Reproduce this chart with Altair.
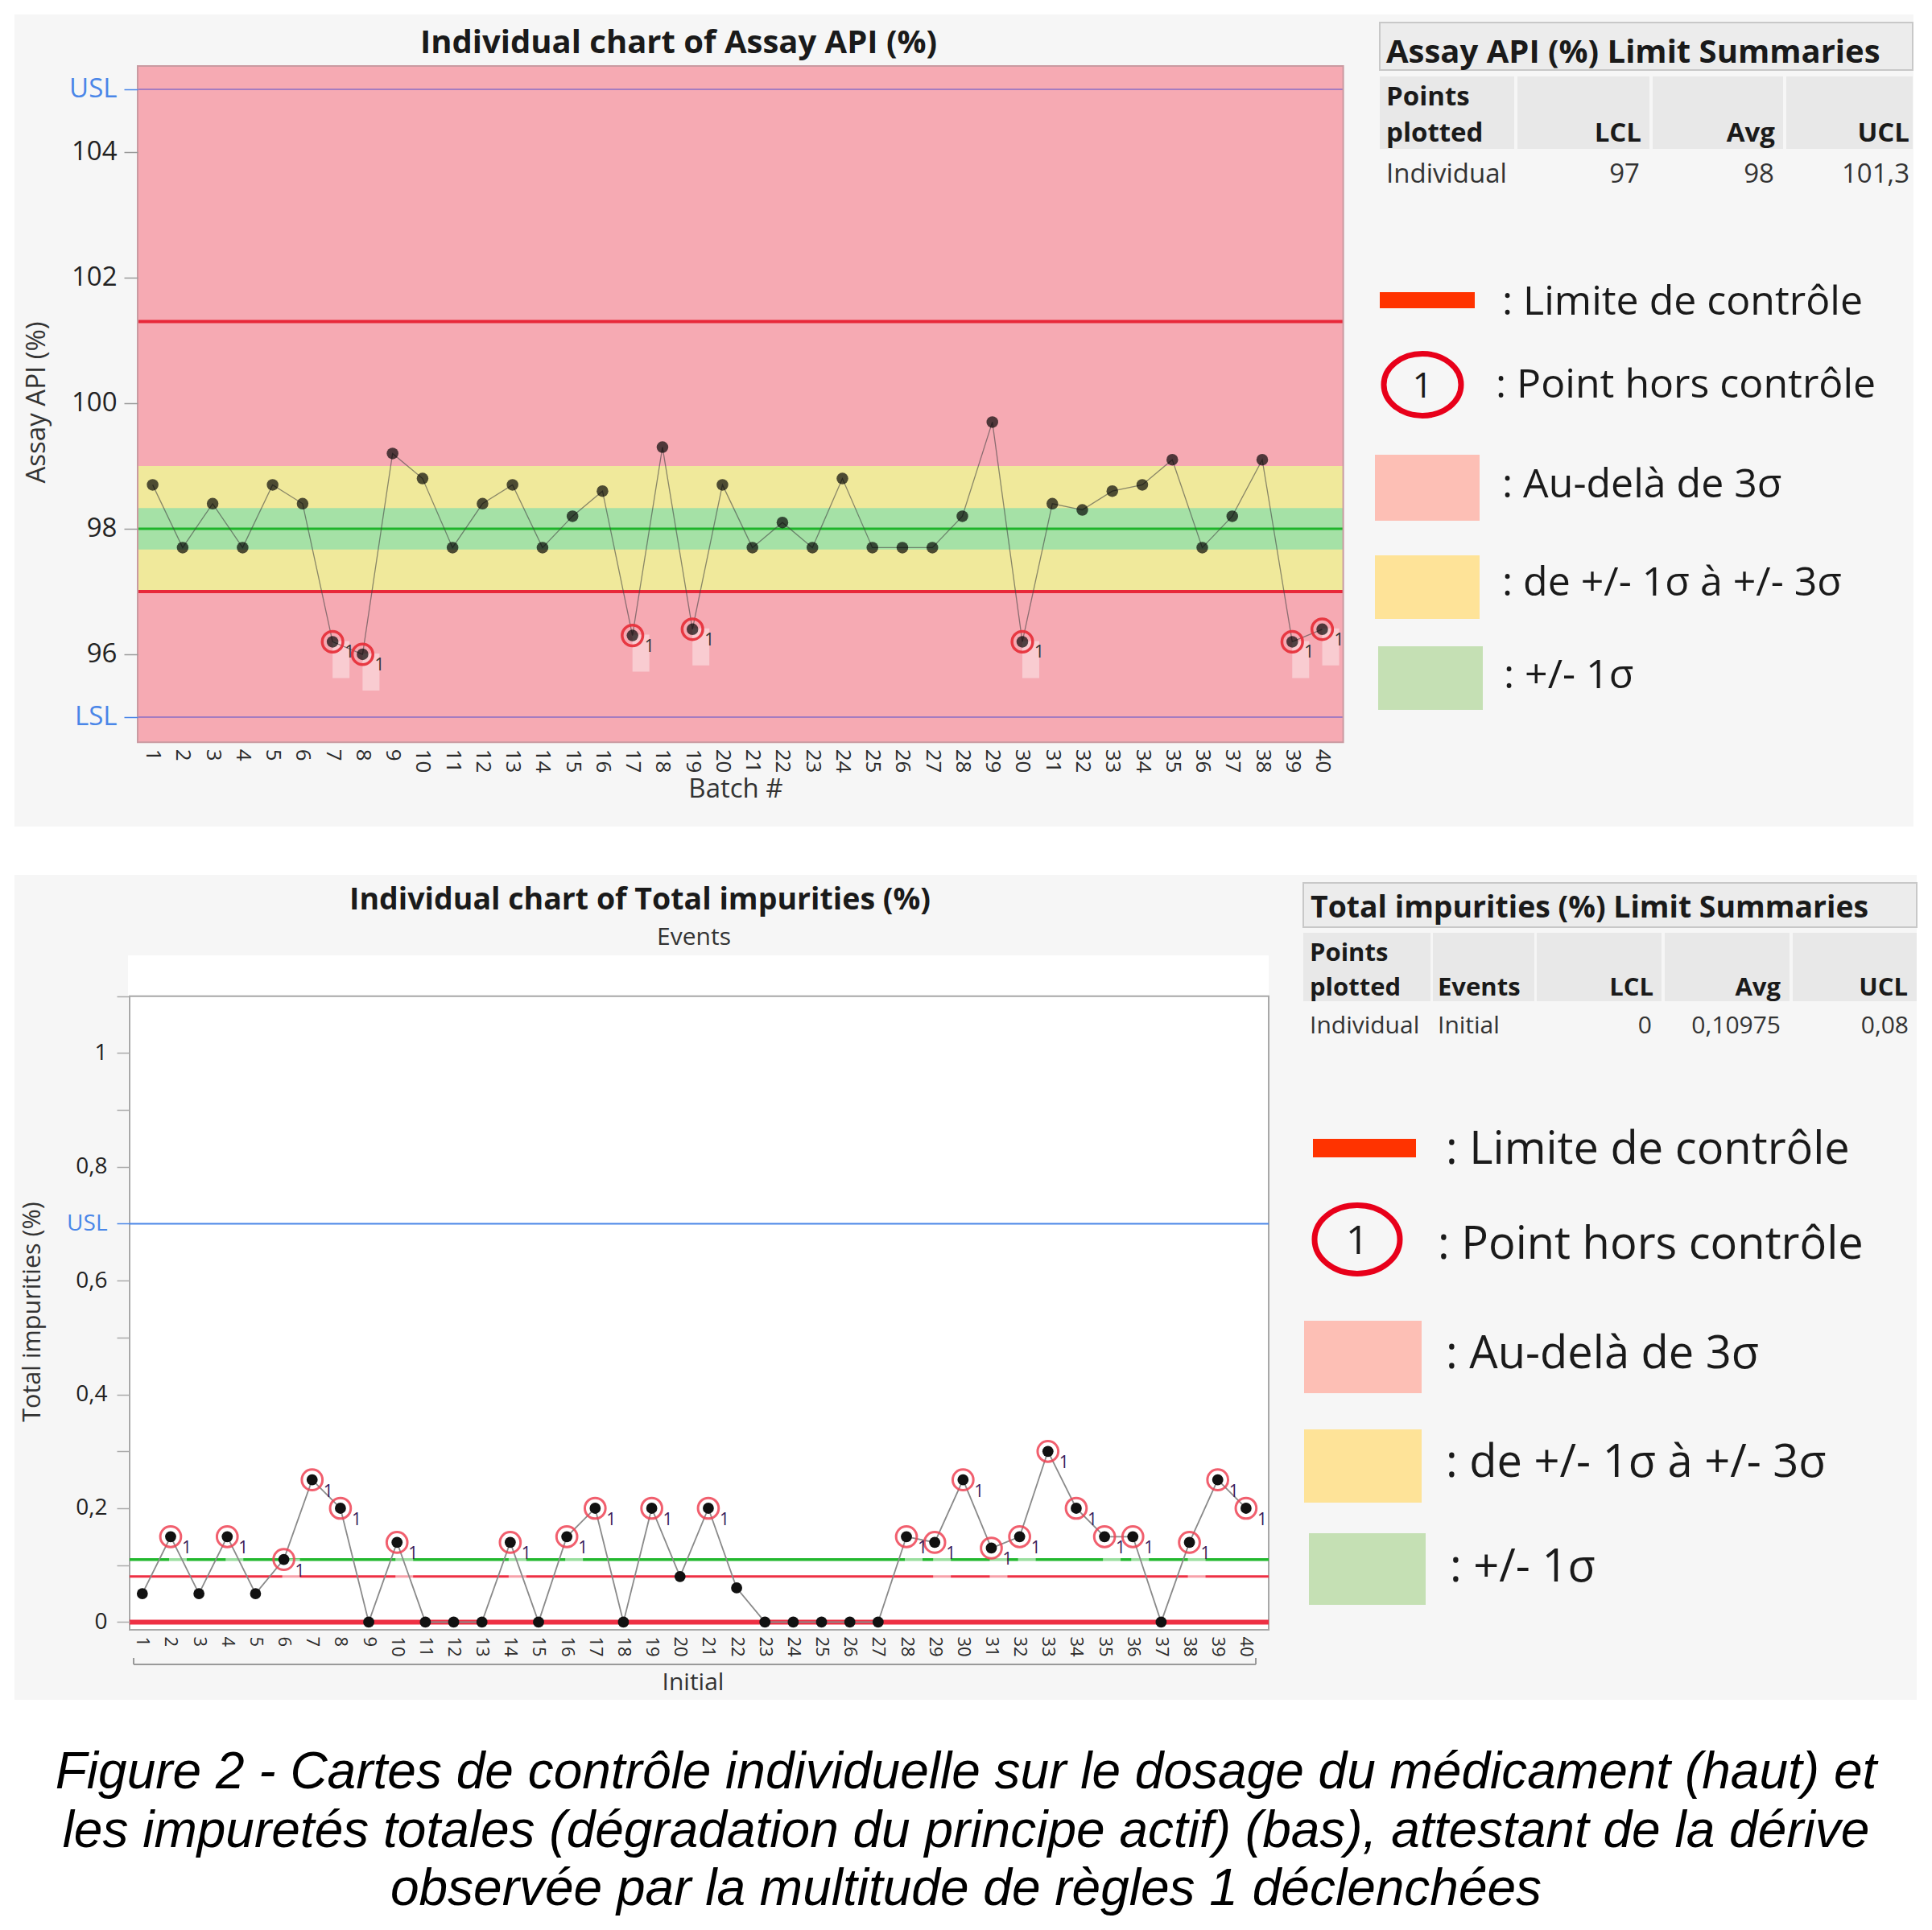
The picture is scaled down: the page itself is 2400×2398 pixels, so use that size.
import altair as alt
import pandas as pd

# ------------------------------------------------------------------ data
batches = list(range(1, 41))
assay = [98.7, 97.7, 98.4, 97.7, 98.7, 98.4, 96.2, 96.0, 99.2, 98.8,
         97.7, 98.4, 98.7, 97.7, 98.2, 98.6, 96.3, 99.3, 96.4, 98.7,
         97.7, 98.1, 97.7, 98.8, 97.7, 97.7, 97.7, 98.2, 99.7, 96.2,
         98.4, 98.3, 98.6, 98.7, 99.1, 97.7, 98.2, 99.1, 96.2, 96.4]
impurities = [0.05, 0.15, 0.05, 0.15, 0.05, 0.11, 0.25, 0.20, 0.0, 0.14,
              0.0, 0.0, 0.0, 0.14, 0.0, 0.15, 0.20, 0.0, 0.20, 0.08,
              0.20, 0.06, 0.0, 0.0, 0.0, 0.0, 0.0, 0.15, 0.14, 0.25,
              0.13, 0.15, 0.30, 0.20, 0.15, 0.15, 0.0, 0.14, 0.25, 0.20]

assay_lcl, assay_avg, assay_ucl = 97.0, 98.0, 101.3
assay_lsl, assay_usl = 95.0, 105.0
assay_domain = [94.6, 105.37]
zone_names = ["Au-delà de 3σ", "de +/- 1σ à +/- 3σ", "+/- 1σ"]
zone_lo = [94.6, 97.0, 97.67]
zone_hi = [105.37, 99.0, 98.33]
zone_colors = ["#f6aab3", "#f0e99b", "#a5e1a6"]
assay_ticks = [95, 96, 98, 100, 102, 104, 105]

imp_lcl, imp_avg, imp_ucl, imp_usl = 0.0, 0.10975, 0.08, 0.7
imp_domain = [-0.0136, 1.1]
imp_ticks = [0, 0.1, 0.2, 0.3, 0.4, 0.5, 0.6, 0.7, 0.8, 0.9, 1.0, 1.1]

legend_labels = [": Limite de contrôle", ": Point hors contrôle", ": Au-delà de 3σ",
                 ": de +/- 1σ à +/- 3σ", ": +/- 1σ"]
legend_swatch = ["#fdbfb5", "#fee398", "#c5e0b4"]

caption_lines = [
    "Figure 2 - Cartes de contrôle individuelle sur le dosage du médicament (haut) et",
    "les impuretés totales (dégradation du principe actif) (bas), attestant de la dérive",
    "observée par la multitude de règles 1 déclenchées",
]

# ------------------------------------------------------------------ helpers
M = 8
W, H = 2384, 2382
FONT = "Open Sans"
CAPFONT = "Liberation Sans"


def P(v):
    return v - M


one = pd.DataFrame({"k": [0]})


def rect(x1, y1, x2, y2, fill, stroke=None, sw=1, opacity=1.0):
    kw = dict(fill=fill, opacity=opacity)
    if stroke:
        kw.update(stroke=stroke, strokeWidth=sw)
    return alt.Chart(one).mark_rect(**kw).encode(
        x=alt.value(P(x1)), x2=alt.value(P(x2)), y=alt.value(P(y1)), y2=alt.value(P(y2)))


def seg(x1, y1, x2, y2, color, sw):
    return alt.Chart(one).mark_rule(color=color, strokeWidth=sw).encode(
        x=alt.value(P(x1)), x2=alt.value(P(x2)), y=alt.value(P(y1)), y2=alt.value(P(y2)))


def text(s, x, y, size, weight="normal", align="left", baseline="alphabetic",
         color="#1a1a1a", font=FONT, angle=None, style="normal"):
    kw = dict(text=s, fontSize=size, fontWeight=weight, align=align, baseline=baseline,
              color=color, font=font, fontStyle=style)
    if angle is not None:
        kw["angle"] = angle
    return alt.Chart(one).mark_text(**kw).encode(x=alt.value(P(x)), y=alt.value(P(y)))


def ellipse(cx, cy, rx, color, sw):
    path = "M -1 0 A 1 0.8 0 1 0 1 0 A 1 0.8 0 1 0 -1 0 Z"
    return alt.Chart(one).mark_point(shape=path, size=(2 * rx) ** 2, filled=False,
                                     color=color, strokeWidth=sw, opacity=1).encode(
        x=alt.value(P(cx)), y=alt.value(P(cy)))


layers = []

# ------------------------------------------------------------------ panels
layers.append(rect(18, 18, 2377, 1027, "#f6f6f6"))
layers.append(rect(18, 1087, 2381, 2112, "#f6f6f6"))

# ================================================================== TOP PLOT
TX0, TX1 = 171, 1668.6
TY0, TY1 = 922.2, 82.1
xs_t = alt.Scale(domain=[0.5, 40.7], range=[P(TX0), P(TX1)], nice=False, zero=False)
ys_t = alt.Scale(domain=assay_domain, range=[P(TY0), P(TY1)], nice=False, zero=False)
spec_test_t = f"datum.value == {assay_usl} || datum.value == {assay_lsl}"
ax_x_t = alt.Axis(values=batches, labelAngle=90, ticks=False, domain=False, grid=False,
                  labelPadding=8, labelFontSize=26, labelFont=FONT, labelColor="#2a2a2a",
                  title=None, orient="bottom", offset=P(TY0) - H, zindex=2,
                  labelOverlap=False, labelFlush=False, labelBound=False)
ax_y_t = alt.Axis(values=assay_ticks,
                  labelExpr=f"datum.value == {assay_usl} ? 'USL' : (datum.value == {assay_lsl} ? 'LSL' : datum.label)",
                  labelColor={"condition": {"test": spec_test_t, "value": "#4a86e8"}, "value": "#222"},
                  tickColor={"condition": {"test": spec_test_t, "value": "#4a86e8"}, "value": "#999"},
                  tickSize=17, tickWidth=1.5, labelPadding=9, domain=False, grid=False,
                  labelFontSize=33, labelFont=FONT, title=None, orient="left", zindex=2,
                  offset=-P(TX0), labelOverlap=False, labelFlush=False, labelBound=False)

df_t = pd.DataFrame({"batch": batches, "assay": assay})
zones_t = pd.DataFrame({"zone": zone_names, "lo": zone_lo, "hi": zone_hi})
flag_t = f"datum.assay < {assay_lcl} || datum.assay > {assay_ucl}"
Xt = alt.X("batch:Q", scale=xs_t, axis=ax_x_t)
Yt = alt.Y("assay:Q", scale=ys_t, axis=ax_y_t)

bands_t = alt.Chart(zones_t).mark_rect().encode(
    x=alt.value(P(TX0)), x2=alt.value(P(TX1)),
    y=alt.Y("lo:Q", scale=ys_t, axis=ax_y_t), y2="hi:Q",
    color=alt.Color("zone:N", scale=alt.Scale(domain=zone_names, range=zone_colors), legend=None))


def hlines_t(vals, color, sw):
    return alt.Chart(pd.DataFrame({"v": vals})).mark_rule(color=color, strokeWidth=sw).encode(
        x=alt.value(P(TX0)), x2=alt.value(P(TX1)), y=alt.Y("v:Q", scale=ys_t, axis=ax_y_t))


lab_rects_t = alt.Chart(df_t).transform_filter(flag_t).mark_rect(
    fill="white", opacity=0.4, xOffset=0, x2Offset=21, yOffset=-1, y2Offset=45).encode(
    x=Xt, x2="batch:Q", y=Yt, y2="assay:Q")
conn_t = alt.Chart(df_t).mark_line(color="#444", strokeWidth=1.3, opacity=0.6).encode(x=Xt, y=Yt)
pts_t = alt.Chart(df_t).mark_circle(size=210, color="black", opacity=0.68).encode(x=Xt, y=Yt)
rings_t = alt.Chart(df_t).transform_filter(flag_t).mark_point(
    shape="circle", size=660, filled=False, color="#e8323c", strokeWidth=3.5, opacity=0.95).encode(x=Xt, y=Yt)
ones_t = alt.Chart(df_t).transform_filter(flag_t).mark_text(
    text="1", dx=21, dy=14, fontSize=21, font=FONT, color="#333", align="center", baseline="middle").encode(x=Xt, y=Yt)
frame_t = rect(TX0, TY1, TX1, TY0, "transparent", stroke="#c99aa1", sw=2)

top_plot = alt.layer(
    bands_t,
    hlines_t([assay_usl, assay_lsl], "#8a6cc4", 1.6),
    hlines_t([assay_ucl, assay_lcl], "#e8283a", 4),
    hlines_t([assay_avg], "#1fb42a", 3),
    lab_rects_t, conn_t, pts_t, rings_t, ones_t,
)

# ================================================================== BOTTOM PLOT
BX0, BX1 = 161, 1576
BY0, BY1 = 2025, 1237.7
xs_b = alt.Scale(domain=[0.55, 40.8], range=[P(BX0), P(BX1)], nice=False, zero=False)
ys_b = alt.Scale(domain=imp_domain, range=[P(BY0), P(BY1)], nice=False, zero=False)
usl_test_b = f"datum.value == {imp_usl}"
ax_x_b = alt.Axis(values=batches, labelAngle=90, ticks=False, domain=False, grid=False,
                  labelPadding=8, labelFontSize=22, labelFont=FONT, labelColor="#2a2a2a",
                  title=None, orient="bottom", offset=P(BY0) - H, zindex=2,
                  labelOverlap=False, labelFlush=False, labelBound=False)
ax_y_b = alt.Axis(values=imp_ticks,
                  labelExpr=(f"datum.value == {imp_usl} ? 'USL' : "
                             "(round(datum.value * 10) % 2 == 0 ? replace(format(datum.value, '~g'), '.', ',') : '')"),
                  labelColor={"condition": {"test": usl_test_b, "value": "#4a86e8"}, "value": "#222"},
                  tickColor={"condition": {"test": usl_test_b, "value": "#4a86e8"}, "value": "#aaa"},
                  tickSize=16, tickWidth=1.5, labelPadding=12, domain=False, grid=False,
                  labelFontSize=28, labelFont=FONT, title=None, orient="left", zindex=2,
                  offset=-P(BX0), labelOverlap=False, labelFlush=False, labelBound=False)

df_b = pd.DataFrame({"batch": batches, "imp": impurities})
flag_b = f"datum.imp < {imp_lcl} || datum.imp > {imp_ucl}"
Xb = alt.X("batch:Q", scale=xs_b, axis=ax_x_b)
Yb = alt.Y("imp:Q", scale=ys_b, axis=ax_y_b)


def hlines_b(vals, color, sw):
    return alt.Chart(pd.DataFrame({"v": vals})).mark_rule(color=color, strokeWidth=sw).encode(
        x=alt.value(P(BX0)), x2=alt.value(P(BX1)), y=alt.Y("v:Q", scale=ys_b, axis=ax_y_b))


lab_rects_b = alt.Chart(df_b).transform_filter(flag_b).mark_rect(
    fill="white", opacity=0.55, xOffset=-2, x2Offset=20, yOffset=-1, y2Offset=45).encode(
    x=Xb, x2="batch:Q", y=Yb, y2="imp:Q")
conn_b = alt.Chart(df_b).mark_line(color="#8a8a8a", strokeWidth=1.8).encode(x=Xb, y=Yb)
pts_b = alt.Chart(df_b).mark_circle(size=190, color="#111", opacity=1).encode(x=Xb, y=Yb)
rings_b = alt.Chart(df_b).transform_filter(flag_b).mark_point(
    shape="circle", size=660, filled=False, color="#ef4455", strokeWidth=3, opacity=0.85).encode(x=Xb, y=Yb)
ones_b = alt.Chart(df_b).transform_filter(flag_b).mark_text(
    text="1", dx=20, dy=15, fontSize=21, font=FONT, color="#3a1a5a", align="center", baseline="middle").encode(x=Xb, y=Yb)

bottom_plot = alt.layer(
    hlines_b([imp_usl], "#4a86e8", 2),
    hlines_b([imp_avg], "#22b82e", 3.5),
    hlines_b([imp_ucl], "#ee3044", 3),
    hlines_b([imp_lcl], "#ee3044", 6),
    lab_rects_b, conn_b, pts_b, rings_b, ones_b,
)

# white area + frame of bottom plot (behind the data)
layers.append(rect(159, 1187, BX1, BY0, "white"))
layers.append(rect(BX0, BY1, BX1, BY0, "transparent", stroke="#a8a8a8", sw=2))

layers.append(top_plot)
layers.append(frame_t)
layers.append(bottom_plot)

# ------------------------------------------------------------------ titles / axis titles
layers.append(text("Individual chart of Assay API (%)", 843, 54, 40, weight="bold",
                   align="center", baseline="middle"))
layers.append(text("Assay API (%)", 46, 500, 33, align="center", baseline="middle", angle=270,
                   color="#333"))
layers.append(text("Batch #", 914, 981, 33, align="center", baseline="middle", color="#333"))

layers.append(text("Individual chart of Total impurities (%)", 795, 1119, 37.5, weight="bold",
                   align="center", baseline="middle"))
layers.append(text("Events", 862, 1165, 30, align="center", baseline="middle", color="#333"))
layers.append(text("Total impurities (%)", 41, 1630, 30.5, align="center", baseline="middle",
                   angle=270, color="#333"))
layers.append(seg(166, 2068, 1560, 2068, "#9a9a9a", 2))
layers.append(seg(166, 2060, 166, 2068, "#9a9a9a", 2))
layers.append(seg(1560, 2060, 1560, 2068, "#9a9a9a", 2))
layers.append(text("Initial", 861, 2091, 30, align="center", baseline="middle", color="#333"))

# ------------------------------------------------------------------ top table
layers.append(rect(1714, 28, 2376, 87, "#ececec", stroke="#c8c8c8", sw=2))
layers.append(text("Assay API (%) Limit Summaries", 1722, 78, 40, weight="bold"))
for a, b in [(1714, 1881), (1885, 2049), (2053, 2215), (2219, 2376)]:
    layers.append(rect(a, 95, b, 185, "#e8e8e8"))
layers.append(text("Points", 1722, 131, 33, weight="bold"))
layers.append(text("plotted", 1722, 176, 33, weight="bold"))
for s, xr in [("LCL", 2039), ("Avg", 2205), ("UCL", 2372)]:
    layers.append(text(s, xr, 176, 33, weight="bold", align="right"))
layers.append(text("Individual", 1722, 227, 33, color="#333"))
for s, xr in [(f"{assay_lcl:g}", 2037), (f"{assay_avg:g}", 2204),
              (f"{assay_ucl:g}".replace(".", ","), 2372)]:
    layers.append(text(s, xr, 227, 33, align="right", color="#333"))

# ------------------------------------------------------------------ top legend
layers.append(rect(1714, 363, 1832, 383, "#ff3300"))
layers.append(ellipse(1767, 478, 48, "#e8001a", 7))
layers.append(text("1", 1767, 494, 44, align="center"))
layers.append(rect(1708, 565, 1838, 647, legend_swatch[0]))
layers.append(rect(1708, 690, 1838, 769, legend_swatch[1]))
layers.append(rect(1712, 803, 1842, 882, legend_swatch[2]))
for s, x, y in zip(legend_labels, [1866, 1858, 1866, 1866, 1868], [391, 494, 618, 740, 855]):
    layers.append(text(s, x, y, 50))

# ------------------------------------------------------------------ bottom table
layers.append(rect(1619, 1097, 2381, 1152, "#ececec", stroke="#c8c8c8", sw=2))
layers.append(text("Total impurities (%) Limit Summaries", 1628, 1140, 37.4, weight="bold"))
for a, b in [(1619, 1777), (1780, 1906), (1909, 2064), (2068, 2223), (2227, 2381)]:
    layers.append(rect(a, 1159, b, 1244, "#e8e8e8"))
layers.append(text("Points", 1627, 1194, 31, weight="bold"))
layers.append(text("plotted", 1627, 1237, 31, weight="bold"))
layers.append(text("Events", 1786, 1237, 31, weight="bold"))
for s, xr in [("LCL", 2054), ("Avg", 2212), ("UCL", 2370)]:
    layers.append(text(s, xr, 1237, 31, weight="bold", align="right"))
layers.append(text("Individual", 1627, 1284, 30, color="#333"))
layers.append(text("Initial", 1786, 1284, 30, color="#333"))
for s, xr in [(f"{imp_lcl:g}", 2052), (f"{imp_avg:g}".replace(".", ","), 2212),
              (f"{imp_ucl:g}".replace(".", ","), 2371)]:
    layers.append(text(s, xr, 1284, 30, align="right", color="#333"))

# ------------------------------------------------------------------ bottom legend
layers.append(rect(1631, 1415, 1759, 1438, "#ff3300"))
layers.append(ellipse(1686, 1540, 53, "#e8001a", 7))
layers.append(text("1", 1686, 1558, 50, align="center"))
layers.append(rect(1620, 1641, 1766, 1731, legend_swatch[0]))
layers.append(rect(1620, 1776, 1766, 1867, legend_swatch[1]))
layers.append(rect(1626, 1905, 1771, 1994, legend_swatch[2]))
for s, x, y in zip(legend_labels, [1796, 1786, 1796, 1796, 1801], [1446, 1564, 1700, 1835, 1965]):
    layers.append(text(s, x, y, 56))

# ------------------------------------------------------------------ caption
for s, y in zip(caption_lines, [2222, 2295, 2367]):
    layers.append(text(s, 1200, y, 64, align="center", style="italic", font=CAPFONT, color="#000"))

chart = alt.layer(*layers).resolve_scale(x="independent", y="independent").properties(
    width=W, height=H, padding=0, autosize=alt.AutoSizeParams(type="none"), background="white"
).configure_view(stroke=None)

chart.save("out.html", embed_options={"renderer": "svg", "actions": False})
